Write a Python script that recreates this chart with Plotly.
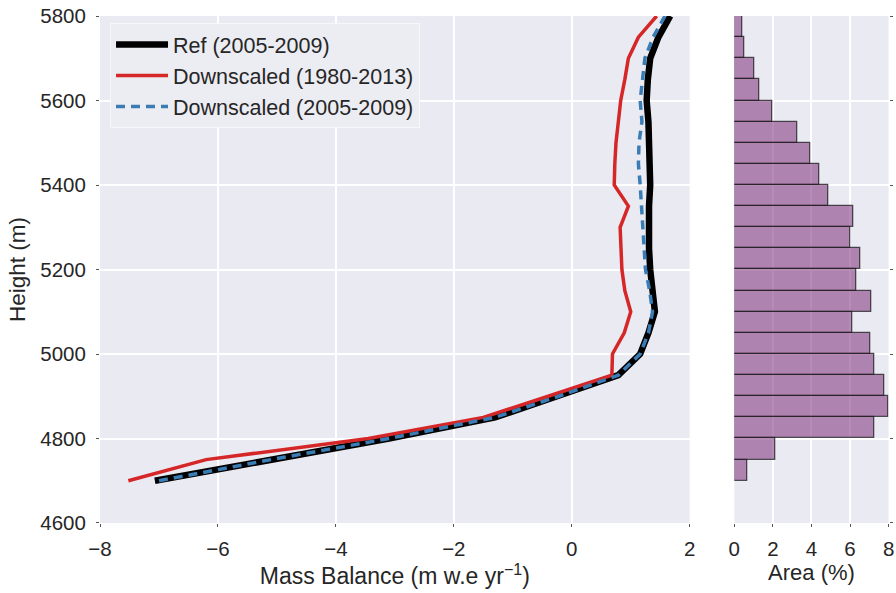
import plotly.graph_objects as go

# Height levels of the mass-balance profiles (m)
heights = [4700, 4750, 4800, 4850, 4900, 4950, 5000, 5050, 5100, 5150, 5200,
           5250, 5300, 5350, 5400, 5450, 5500, 5550, 5600, 5650, 5700, 5750, 5800]

# Mass balance profiles (m w.e. yr-1)
mb_ref = [-7.07, -5.1, -3.1, -1.3, -0.22, 0.79, 1.16, 1.3, 1.41, 1.36, 1.33,
          1.31, 1.30, 1.31, 1.33, 1.33, 1.31, 1.30, 1.27, 1.29, 1.33, 1.47, 1.67]
mb_down_1980_2013 = [-7.52, -6.2, -3.45, -1.5, -0.4, 0.68, 0.69, 0.89, 1.0, 0.9, 0.85,
                     0.83, 0.82, 0.96, 0.72, 0.73, 0.75, 0.79, 0.83, 0.9, 0.96, 1.13, 1.44]
mb_down_2005_2009 = [-7.0, -5.1, -3.1, -1.3, -0.22, 0.79, 1.16, 1.3, 1.37, 1.32, 1.25,
                     1.23, 1.2, 1.19, 1.16, 1.13, 1.14, 1.19, 1.16, 1.2, 1.24, 1.38, 1.58]

# Area distribution per 50 m elevation band (%)
band_centers = [4725, 4775, 4825, 4875, 4925, 4975, 5025, 5075, 5125, 5175, 5225,
                5275, 5325, 5375, 5425, 5475, 5525, 5575, 5625, 5675, 5725, 5775]
area_pct = [0.68, 2.1, 7.26, 8.0, 7.79, 7.24, 7.03, 6.13, 7.1, 6.34, 6.51,
            6.03, 6.15, 4.88, 4.42, 3.92, 3.29, 1.99, 1.32, 1.04, 0.52, 0.40]
band_width = 50

TEXT = "#262626"
BG = "#eaeaf2"
FONT = "Liberation Sans, Arial, sans-serif"

fig = go.Figure()

fig.add_trace(go.Scatter(
    x=mb_ref, y=heights, mode="lines", name="Ref (2005-2009)",
    line=dict(color="black", width=6.5), xaxis="x", yaxis="y"))
fig.add_trace(go.Scatter(
    x=mb_down_1980_2013, y=heights, mode="lines", name="Downscaled (1980-2013)",
    line=dict(color="#d62728", width=3.5), xaxis="x", yaxis="y"))
fig.add_trace(go.Scatter(
    x=mb_down_2005_2009, y=heights, mode="lines", name="Downscaled (2005-2009)",
    line=dict(color="#3a7db5", width=3.5, dash="9px,6px"), xaxis="x", yaxis="y"))

fig.add_trace(go.Bar(
    x=area_pct, y=band_centers, width=band_width, orientation="h",
    marker=dict(color="rgba(134,61,132,0.6)",
                line=dict(color="rgba(30,30,30,0.75)", width=1.3)),
    showlegend=False, xaxis="x2", yaxis="y2"))

axis_common = dict(
    showgrid=True, gridcolor="white", gridwidth=1.5, zeroline=False,
    showline=False, ticks="outside", ticklen=3, tickcolor="#555",
    tickfont=dict(size=20.5, color=TEXT, family=FONT), automargin=False,
)

fig.update_layout(
    width=896, height=593,
    margin=dict(l=90, r=5, t=15, b=70),
    paper_bgcolor="white", plot_bgcolor=BG,
    font=dict(family=FONT, color=TEXT),
    bargap=0,
    xaxis=dict(domain=[0.0125, 0.7487], range=[-8, 2], tickmode="array",
               tickvals=[-8, -6, -4, -2, 0, 2],
               ticktext=["\u22128", "\u22126", "\u22124", "\u22122", "0", "2"],
               ticklabelstandoff=4,
               title=dict(text="Mass Balance (m w.e yr<sup>\u22121</sup>)",
                          font=dict(size=23, color=TEXT), standoff=6),
               **axis_common),
    yaxis=dict(domain=[0, 0.998], range=[4600, 5800], dtick=200,
               ticklabelstandoff=6,
               title=dict(text="Height (m)", font=dict(size=22.5, color=TEXT), standoff=8),
               **axis_common),
    xaxis2=dict(domain=[0.8044, 0.997], range=[0, 8], dtick=2,
                ticklabelstandoff=4,
                title=dict(text="Area (%)", font=dict(size=22, color=TEXT), standoff=6),
                anchor="y2", **axis_common),
    yaxis2=dict(domain=[0, 0.998], range=[4600, 5800], dtick=200,
                showticklabels=False, anchor="x2", side="right", **axis_common),
    legend=dict(x=0.025, y=0.984, xanchor="left", yanchor="top",
                bgcolor="#ececf3", bordercolor="#f7f7f9", borderwidth=1,
                font=dict(size=21.5, color=TEXT, family=FONT),
                itemwidth=52, tracegroupgap=0),
)

fig.write_html("out.html")
